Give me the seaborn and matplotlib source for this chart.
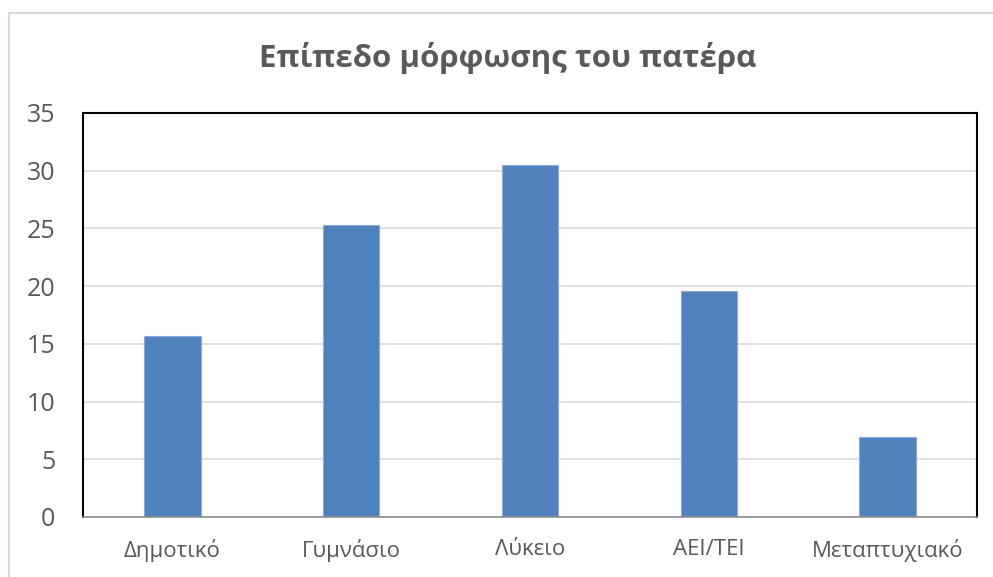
import matplotlib
matplotlib.use("Agg")
import matplotlib.pyplot as plt
import seaborn as sns
import pandas as pd
from matplotlib.patches import Rectangle

categories = ["Δημοτικό", "Γυμνάσιο", "Λύκειο", "ΑΕΙ/ΤΕΙ", "Μεταπτυχιακό"]
values = [15.7, 25.3, 30.5, 19.6, 6.9]
yticks = [0, 5, 10, 15, 20, 25, 30, 35]
title = "Επίπεδο μόρφωσης του πατέρα"

sns.set_theme(style="white")
plt.rcParams["font.family"] = ["Open Sans", "DejaVu Sans"]

df = pd.DataFrame({"cat": categories, "val": values})

W, H = 993, 577
fig = plt.figure(figsize=(W / 100, H / 100), dpi=100)
ax = fig.add_axes([83 / W, 1 - 517 / H, (977 - 83) / W, (517 - 113) / H])

sns.barplot(data=df, x="cat", y="val", color="#4F81BD", width=0.315,
            edgecolor="#8EAADB", linewidth=0.8, saturation=1, ax=ax)

ax.set_ylim(0, 35)
ax.set_yticks(yticks)
ax.set_xlim(-0.5, len(categories) - 0.5)
ax.yaxis.grid(True, color="#D9D9D9", linewidth=1.2)
ax.set_axisbelow(True)
ax.set_xlabel("")
ax.set_ylabel("")
ax.tick_params(axis="y", length=0, pad=20, labelsize=18, labelcolor="#595959")
ax.tick_params(axis="x", length=0, pad=16, labelsize=16, labelcolor="#595959")

for s in ["left", "top", "right"]:
    ax.spines[s].set_color("black")
    ax.spines[s].set_linewidth(1.5)
    ax.spines[s].set_visible(True)
ax.spines["bottom"].set_color("#8C8C8C")
ax.spines["bottom"].set_linewidth(1.2)

fig.text(508 / W, 1 - 58 / H, title, ha="center", va="center",
         fontsize=22.5, fontweight="bold", color="#595959")

fig.patches.append(Rectangle((9 / W, -0.1), 1.2, 1 - 13 / H + 0.1,
                             transform=fig.transFigure, fill=False,
                             edgecolor="#D9D9D9", linewidth=1.5))

fig.savefig("out.png", dpi=100, facecolor="white")
